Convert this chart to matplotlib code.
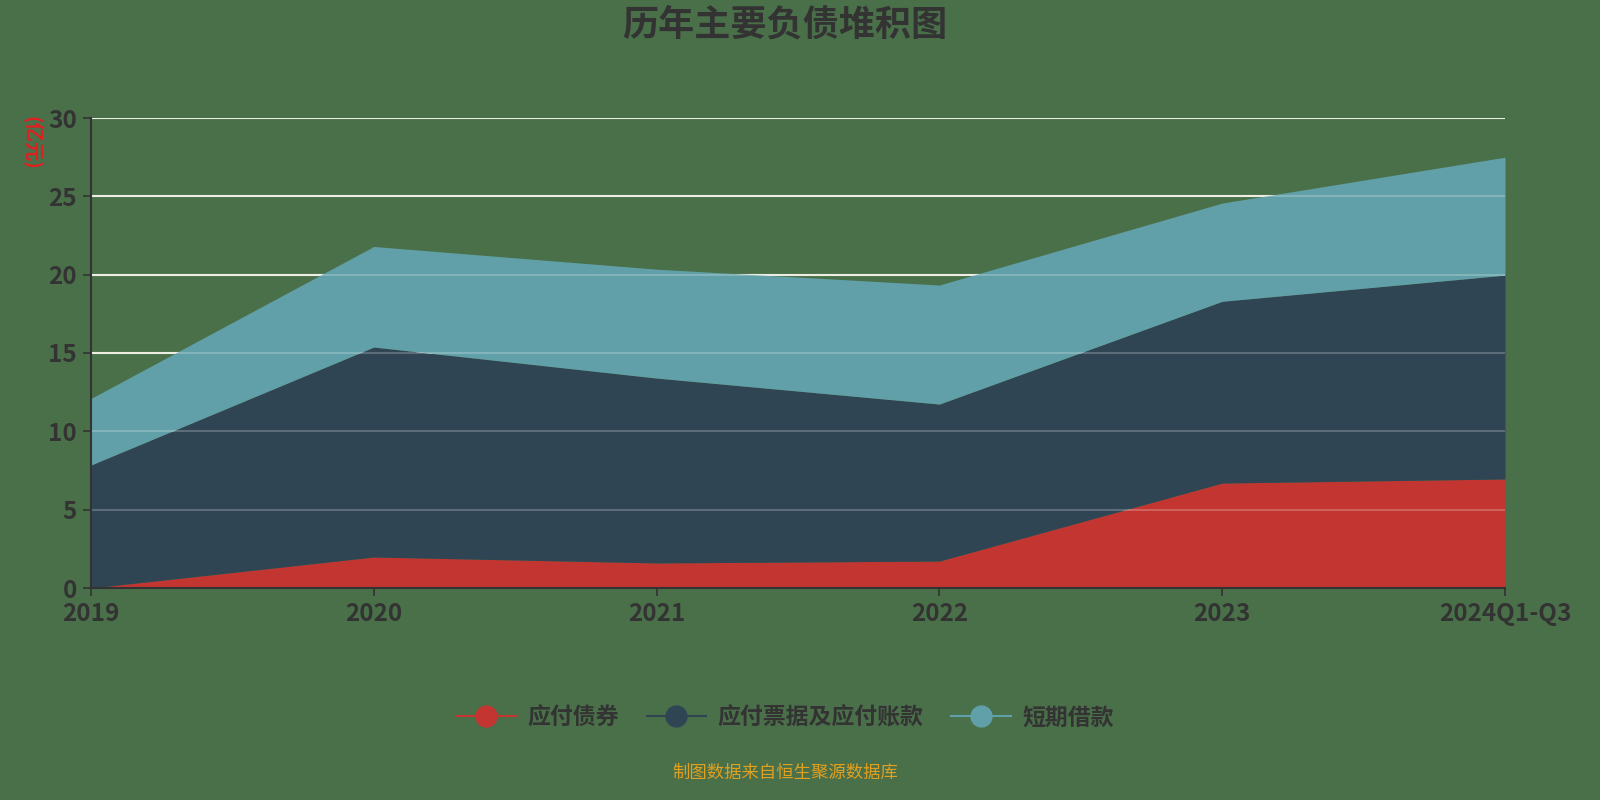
import numpy as np
import matplotlib.pyplot as plt
from matplotlib.lines import Line2D

plt.rcParams['font.family'] = ['Noto Sans CJK SC', 'DejaVu Sans']

years = ['2019', '2020', '2021', '2022', '2023', '2024Q1-Q3']
bonds = [0.0, 1.98, 1.6, 1.72, 6.7, 6.96]          # 应付债券
payables = [7.85, 13.4, 11.8, 10.02, 11.6, 13.01]  # 应付票据及应付账款
short_loans = [4.25, 6.42, 6.95, 7.6, 6.27, 7.53]  # 短期借款

names = ['应付债券', '应付票据及应付账款', '短期借款']
colors = ['#c23531', '#2f4554', '#61a0a8']
bg = '#4a7049'
txt = '#333333'

fig = plt.figure(figsize=(16, 8), dpi=100, facecolor=bg)
ax = fig.add_axes([91/1600, 1-588/800, (1505-91)/1600, (588-118)/800])
ax.set_facecolor(bg)

x = np.arange(len(years))
s1 = np.array(bonds)
s2 = s1 + np.array(payables)
s3 = s2 + np.array(short_loans)

ticks = [0, 5, 10, 15, 20, 25, 30]
# grid under the areas (visible on background only)
for t in ticks[1:]:
    ax.axhline(t, color='#e8e8dc', lw=1.5, zorder=0)

ax.fill_between(x, 0, s1, color=colors[0], lw=0, zorder=2)
ax.fill_between(x, s1, s2, color=colors[1], lw=0, zorder=2)
ax.fill_between(x, s2, s3, color=colors[2], lw=0, zorder=2)

# faint grid over the areas
for t in ticks[1:]:
    ax.axhline(t, color='#ffffff', lw=1.5, alpha=0.22, zorder=3)

ax.set_xlim(0, len(years) - 1)
ax.set_ylim(0, 30)
ax.set_xticks(x)
ax.set_xticklabels(years)
ax.set_yticks(ticks)

for side in ['top', 'right']:
    ax.spines[side].set_visible(False)
for side in ['left', 'bottom']:
    ax.spines[side].set_color(txt)
    ax.spines[side].set_linewidth(1.5)
    ax.spines[side].set_zorder(4)

ax.tick_params(axis='both', colors=txt, labelsize=17.5, length=6, width=1.2)
ax.tick_params(axis='x', pad=4)
ax.tick_params(axis='y', pad=4)
for lab in ax.get_xticklabels() + ax.get_yticklabels():
    lab.set_color(txt)
    lab.set_fontweight('bold')

fig.text(785/1600, 1-25/800, '历年主要负债堆积图', ha='center', va='center',
         fontsize=26, fontweight='bold', color=txt)
fig.text(31/1600, 1-143/800, '(亿元)', ha='center', va='center',
         fontsize=14, fontweight='bold', color='#e02020', rotation=-90)

handles = [Line2D([0], [0], color=c, lw=1.5, marker='o', markersize=15,
                  markerfacecolor=c, markeredgecolor=c) for c in colors]
leg = fig.legend(handles, names, loc='center', bbox_to_anchor=(785/1600, 1-718/800),
                 ncol=3, frameon=False, handlelength=2.6, handletextpad=0.5,
                 columnspacing=1.2, prop={'size': 16.5, 'weight': 'bold'})
for t in leg.get_texts():
    t.set_color(txt)

fig.text(785/1600, 1-773/800, '制图数据来自恒生聚源数据库', ha='center', va='center',
         fontsize=12.5, color='#e0a020')

fig.savefig('out.png', dpi=100, facecolor=bg)
